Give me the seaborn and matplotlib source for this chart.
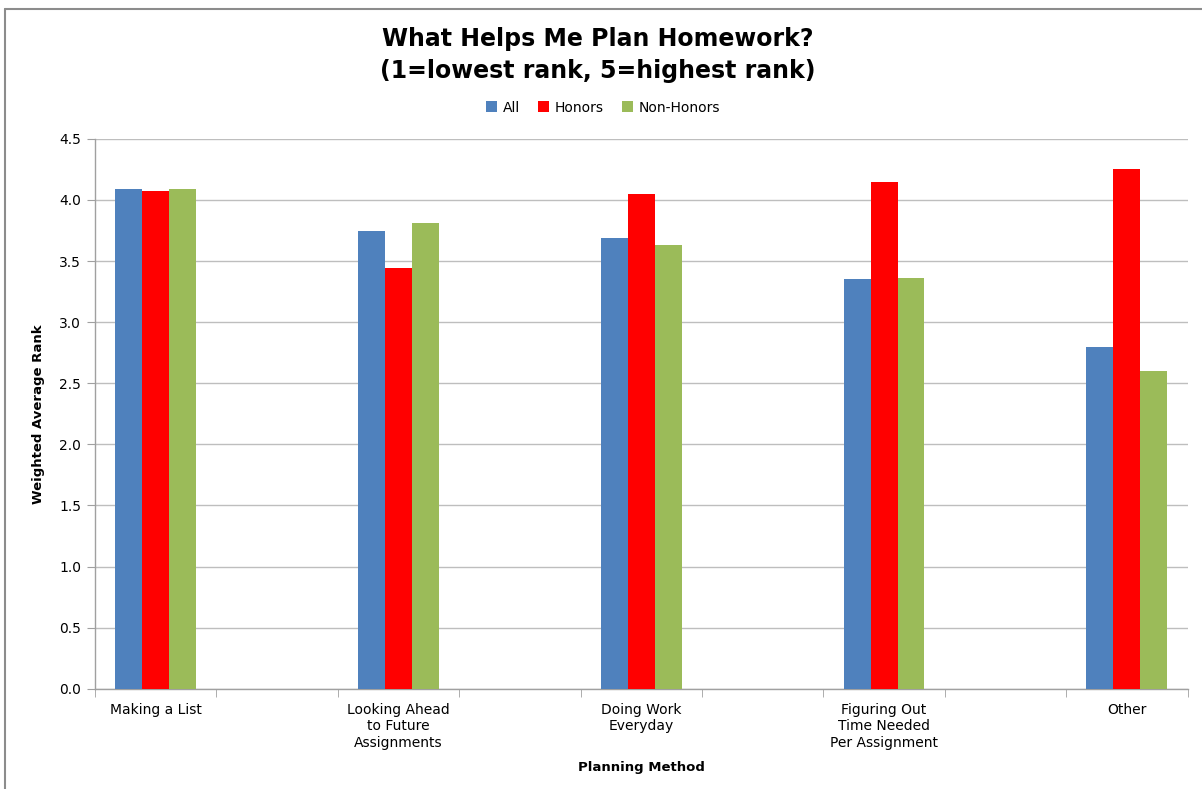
import pandas as pd
import matplotlib.pyplot as plt
import seaborn as sns
from matplotlib.lines import Line2D

methods = ['Making a List', 'Looking Ahead\nto Future\nAssignments', 'Doing Work\nEveryday',
           'Figuring Out\nTime Needed\nPer Assignment', 'Other']
groups = ['All', 'Honors', 'Non-Honors']
all_vals = [4.09, 3.75, 3.69, 3.35, 2.80]
honors_vals = [4.07, 3.44, 4.05, 4.15, 4.25]
non_honors_vals = [4.09, 3.81, 3.63, 3.36, 2.60]
yticks = [0.0, 0.5, 1.0, 1.5, 2.0, 2.5, 3.0, 3.5, 4.0, 4.5]

data = pd.DataFrame({
    'Method': methods * 3,
    'Group': ['All'] * 5 + ['Honors'] * 5 + ['Non-Honors'] * 5,
    'Rank': all_vals + honors_vals + non_honors_vals,
})

sns.set_style("white")
plt.rcParams['font.family'] = ['DejaVu Sans']
plt.rcParams['text.color'] = 'black'
plt.rcParams['axes.labelcolor'] = 'black'

fig = plt.figure(figsize=(12.02, 7.89), dpi=100)
ax = fig.add_axes([0.079, 0.127, 0.909, 0.697])

palette = {'All': '#4F81BD', 'Honors': '#FF0000', 'Non-Honors': '#9BBB59'}
sns.barplot(data=data, x='Method', y='Rank', hue='Group', order=methods, hue_order=groups,
            palette=palette, width=0.333, gap=0, saturation=1, linewidth=0, ax=ax, zorder=3)

ax.set_xlim(-0.25, 4.25)
ax.set_ylim(0, 4.5)
ax.set_yticks(yticks)
ax.set_yticklabels([f'{v:.1f}' for v in yticks], fontsize=10, color='black')
ax.yaxis.grid(True, color='#BEBEBE', linewidth=1, zorder=0)
ax.tick_params(axis='y', which='major', left=True, length=6, color='#A0A0A0', pad=4)

ax.set_xticks(range(len(methods)))
ax.set_xticklabels(methods, fontsize=10, color='black', linespacing=1.25)
ax.tick_params(axis='x', which='major', length=0, pad=10)
ax.set_xticks([-0.25 + 0.5 * k for k in range(10)], minor=True)
ax.tick_params(axis='x', which='minor', bottom=True, length=6, color='#A0A0A0')

for side in ['top', 'right']:
    ax.spines[side].set_visible(False)
for side in ['left', 'bottom']:
    ax.spines[side].set_color('#A0A0A0')
    ax.spines[side].set_linewidth(1)

ax.set_xlabel('Planning Method', fontsize=9.5, fontweight='bold', labelpad=8)
ax.set_ylabel('Weighted Average Rank', fontsize=9.5, fontweight='bold', labelpad=10)

ax.legend(loc='center', bbox_to_anchor=(0.465, 1.057), ncol=3, frameon=False,
          fontsize=10, handlelength=0.8, handleheight=0.8, handletextpad=0.4,
          columnspacing=1.3)

fig.suptitle('What Helps Me Plan Homework?\n(1=lowest rank, 5=highest rank)',
             x=0.497, y=0.966, fontsize=17, fontweight='bold', linespacing=1.42,
             color='black')

fig.add_artist(Line2D([0.0045, 0.0045], [0, 0.988], color='#8C8C8C', linewidth=1.5,
                      transform=fig.transFigure))
fig.add_artist(Line2D([0.0045, 1.0], [0.988, 0.988], color='#8C8C8C', linewidth=1.5,
                      transform=fig.transFigure))

fig.savefig('out.png', dpi=100)
